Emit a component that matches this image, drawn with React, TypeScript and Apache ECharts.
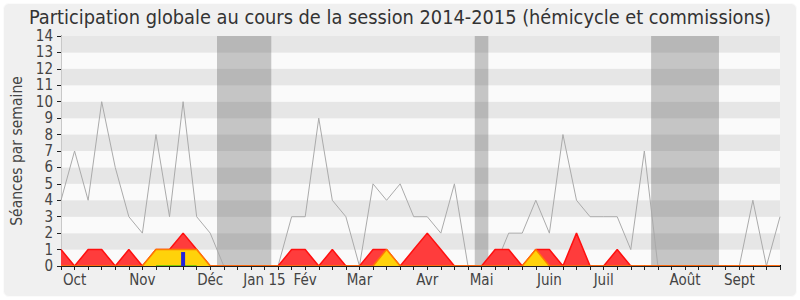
import React, { useEffect, useRef } from "react";
import * as echarts from "echarts";

// Week indices 0..53 (session 2014-2015)
const totalSessions = [4, 7, 4, 10, 6, 3, 2, 8, 3, 10, 3, 2, 0, 0, 0, 0, 0, 3, 3, 9, 4, 3, 0, 5, 4, 5, 3, 3, 2, 5, 0, 0, 0, 2, 2, 4, 2, 8, 4, 3, 3, 3, 1, 7, 0, 0, 0, 0, 0, 0, 0, 4, 0, 3];
const commissionTotal = [1, 0, 1, 1, 0, 1, 0, 1, 1, 2, 1, 0, 0, 0, 0, 0, 0, 1, 1, 0, 1, 0, 0, 1, 1, 0, 1, 2, 1, 0, 0, 0, 1, 1, 0, 1, 1, 0, 2, 0, 0, 1, 0, 0, 0, 0, 0, 0, 0, 0, 0, 0, 0, 0];
const hemicycle = [0, 0, 0, 0, 0, 0, 0, 1, 1, 1, 1, 0, 0, 0, 0, 0, 0, 0, 0, 0, 0, 0, 0, 0, 1, 0, 0, 0, 0, 0, 0, 0, 0, 0, 0, 1, 0, 0, 0, 0, 0, 0, 0, 0, 0, 0, 0, 0, 0, 0, 0, 0, 0, 0];
const greenWeeks = [7, 8, 9, 10];
const greenValues = [0, 0, 0, 0];
const blueWeeks = [9];
const blueValues = [0.85];
const vacationStart = [11.5, 30.5, 43.5];
const vacationEnd = [15.5, 31.5, 48.5];
const monthTickIndex = [1, 6, 11, 15, 18, 22, 27, 31, 36, 40, 46, 50];
const monthNames = ["Oct", "Nov", "Déc", "Jan 15", "Fév", "Mar", "Avr", "Mai", "Juin", "Juil", "Août", "Sept"];

const FONT = '"DejaVu Sans Condensed", "DejaVu Sans", sans-serif';

export default function App() {
  const ref = useRef<HTMLDivElement>(null);
  useEffect(() => {
    if (!ref.current) return;
    const chart = echarts.init(ref.current, undefined, { renderer: "svg" });
    const pairs = (arr: number[]) => arr.map((v, i) => [i, v]);
    const greenData = totalSessions.map((_, i) => {
      const k = greenWeeks.indexOf(i);
      return [i, k >= 0 ? greenValues[k] : null];
    });
    const option: any = {
      animation: false,
      title: {
        text: "Participation globale au cours de la session 2014-2015 (hémicycle et commissions)",
        left: "center",
        top: 7,
        padding: 0,
        textStyle: { fontFamily: FONT, fontSize: 19.8, lineHeight: 20, fontWeight: "normal", color: "#333" },
      },
      grid: { left: 61, right: 20, top: 36, bottom: 34 },
      xAxis: [
        {
          type: "value",
          min: 0,
          max: 53,
          interval: 1,
          z: 5,
          axisLine: { show: true, lineStyle: { color: "#222", width: 1 } },
          axisTick: { show: true, length: 4, lineStyle: { color: "#222" } },
          splitLine: { show: false },
          axisLabel: {
            fontFamily: FONT,
            fontSize: 15,
            color: "#444",
            margin: 6,
            formatter: (v: number) => {
              const k = monthTickIndex.indexOf(Math.round(v));
              return k >= 0 ? monthNames[k] : "";
            },
          },
        },
        {
          type: "value",
          position: "top",
          min: 0,
          max: 53,
          interval: 1,
          axisLine: { show: false },
          axisTick: { show: true, length: 1, lineStyle: { color: "#000" } },
          axisLabel: { show: false },
          splitLine: { show: false },
        },
      ],
      yAxis: [
        {
          type: "value",
          min: 0,
          max: 14,
          interval: 1,
          name: "Séances par semaine",
          nameLocation: "middle",
          nameGap: 36,
          nameTextStyle: { fontFamily: FONT, fontSize: 15.5, color: "#444" },
          axisLine: { show: true, lineStyle: { color: "#222" } },
          axisTick: { show: true, length: 4, lineStyle: { color: "#222" } },
          axisLabel: { fontFamily: FONT, fontSize: 15, lineHeight: 12, color: "#444", margin: 8 },
          splitLine: { show: false },
          splitArea: { show: true, areaStyle: { color: ["#fafafa", "#e6e6e6"] } },
        },
        {
          type: "value",
          position: "right",
          min: 0,
          max: 14,
          interval: 1,
          axisLine: { show: true, lineStyle: { color: "#c8c8c8" } },
          axisTick: { show: false },
          axisLabel: { show: false },
          splitLine: { show: false },
        },
      ],
      series: [
        {
          type: "line",
          data: pairs(totalSessions),
          symbol: "none",
          lineStyle: { color: "#aaaaaa", width: 1 },
          z: 2,
          markArea: {
            silent: true,
            itemStyle: { color: "rgba(60,60,60,0.28)" },
            data: vacationStart.map((s, k) => [{ xAxis: s }, { xAxis: vacationEnd[k] }]),
          },
        },
        {
          type: "line",
          data: pairs(commissionTotal),
          symbol: "none",
          lineStyle: { color: "#ff1010", width: 1.5 },
          areaStyle: { color: "#ff3c3c", opacity: 1 },
          z: 3,
        },
        {
          type: "line",
          data: pairs(hemicycle),
          symbol: "none",
          lineStyle: { color: "#ff7a00", width: 1.5 },
          areaStyle: { color: "#ffd20a", opacity: 1 },
          z: 4,
        },
        {
          type: "line",
          data: greenData,
          symbol: "none",
          connectNulls: false,
          lineStyle: { color: "#00c000", width: 1.2 },
          z: 4,
        },
        {
          type: "bar",
          data: blueWeeks.map((w, k) => [w, blueValues[k]]),
          barWidth: 4,
          itemStyle: { color: "#2323dc" },
          z: 6,
        },
      ],
    };
    chart.setOption(option);
    return () => chart.dispose();
  }, []);
  return (
    <div style={{ position: "fixed", left: 0, top: 0, width: 800, height: 300, background: "#fff" }}>
      <div
        style={{
          position: "absolute",
          left: 3,
          top: 3,
          width: 792,
          height: 292,
          background: "#f0f0f0",
          border: "1px solid #fbfbfb",
          borderRadius: 6,
        }}
      />
      <div ref={ref} style={{ position: "absolute", left: 0, top: 0, width: 800, height: 300 }} />
    </div>
  );
}
